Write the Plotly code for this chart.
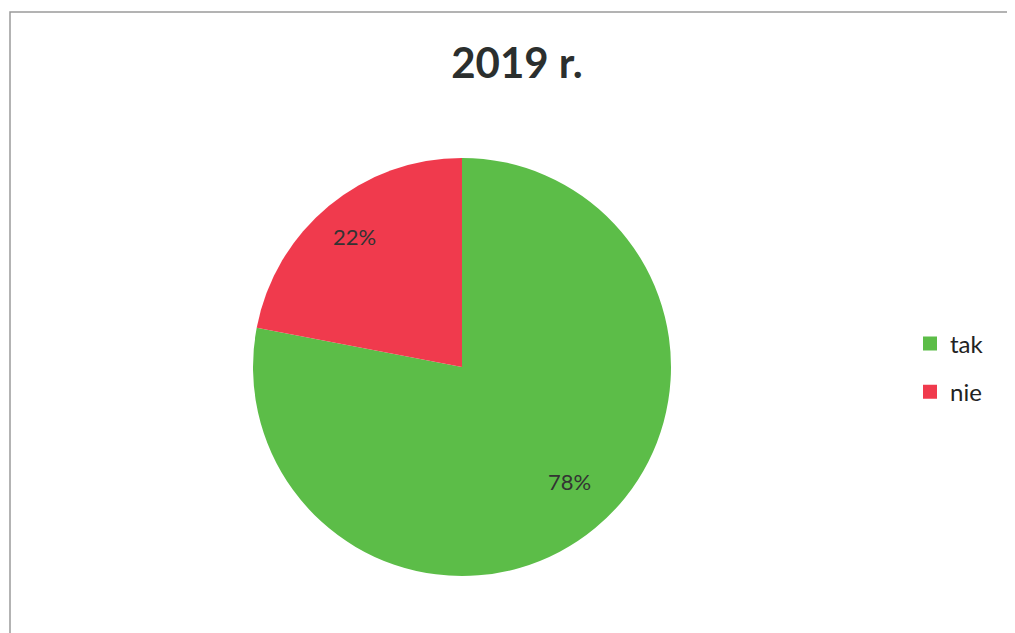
import math
import plotly.graph_objects as go

# dane
labels = ["tak", "nie"]
values = [78, 22]
colors = ["#5cbd48", "#f03a4d"]
title_text = "2019 r."

W, H = 1015, 633
OFF = 8  # margines strony (body) przesuwa wykres o 8 px

# położenie koła w pikselach (jak na obrazie wzorcowym)
cx, cy, R = 462 - OFF, 367 - OFF, 209

fig = go.Figure()

fig.add_trace(go.Pie(
    labels=labels,
    values=values,
    sort=False,
    direction="clockwise",
    rotation=0,
    marker=dict(colors=colors, line=dict(width=0)),
    textinfo="none",
    showlegend=False,
    domain=dict(x=[(cx - R) / W, (cx + R) / W], y=[1 - (cy + R) / H, 1 - (cy - R) / H]),
    hoverinfo="label+percent",
))

# legenda: kwadratowe znaczniki z większym odstępem między pozycjami
for lab, col in zip(labels, colors):
    fig.add_trace(go.Scatter(
        x=[None], y=[None], mode="markers", name=lab, legendgroup=lab,
        marker=dict(symbol="square", size=14, color=col),
    ))

# etykiety procentowe w ok. 0.81 promienia, w środku kąta wycinka
total = sum(values)
annotations = []
start = 0.0
for v in values:
    mid = (start + v / 2) / total * 2 * math.pi
    start += v
    x = cx + 0.81 * R * math.sin(mid)
    y = cy - 0.81 * R * math.cos(mid)
    annotations.append(dict(
        x=x / W, y=1 - y / H, xref="paper", yref="paper",
        text=f"{round(v / total * 100)}%", showarrow=False,
        font=dict(family="Lato", size=22, color="#333333"),
    ))

fig.update_layout(
    width=W,
    height=H,
    margin=dict(l=0, r=0, t=0, b=0),
    paper_bgcolor="white",
    plot_bgcolor="white",
    xaxis=dict(visible=False),
    yaxis=dict(visible=False),
    title=dict(
        text="<b>" + title_text + "</b>",
        x=(517 - OFF) / W, xanchor="center",
        y=1 - (63 - OFF) / H, yanchor="middle",
        font=dict(family="Lato", size=42, color="#2b2f2e"),
    ),
    showlegend=True,
    legend=dict(
        x=(910 - OFF) / W, xanchor="left",
        y=1 - (368 - OFF) / H, yanchor="middle",
        font=dict(family="Lato", size=24, color="#222222"),
        bgcolor="rgba(0,0,0,0)",
        itemwidth=30,
        tracegroupgap=14,
    ),
    annotations=annotations,
    # ramka wykresu (obcięta z prawej i z dołu)
    shapes=[dict(
        type="rect", xref="paper", yref="paper",
        x0=(10 - OFF) / W, x1=1.02, y0=-0.02, y1=1 - (12 - OFF) / H,
        line=dict(color="#9a9a9a", width=1.5),
    )],
)

fig.write_html("out.html")
